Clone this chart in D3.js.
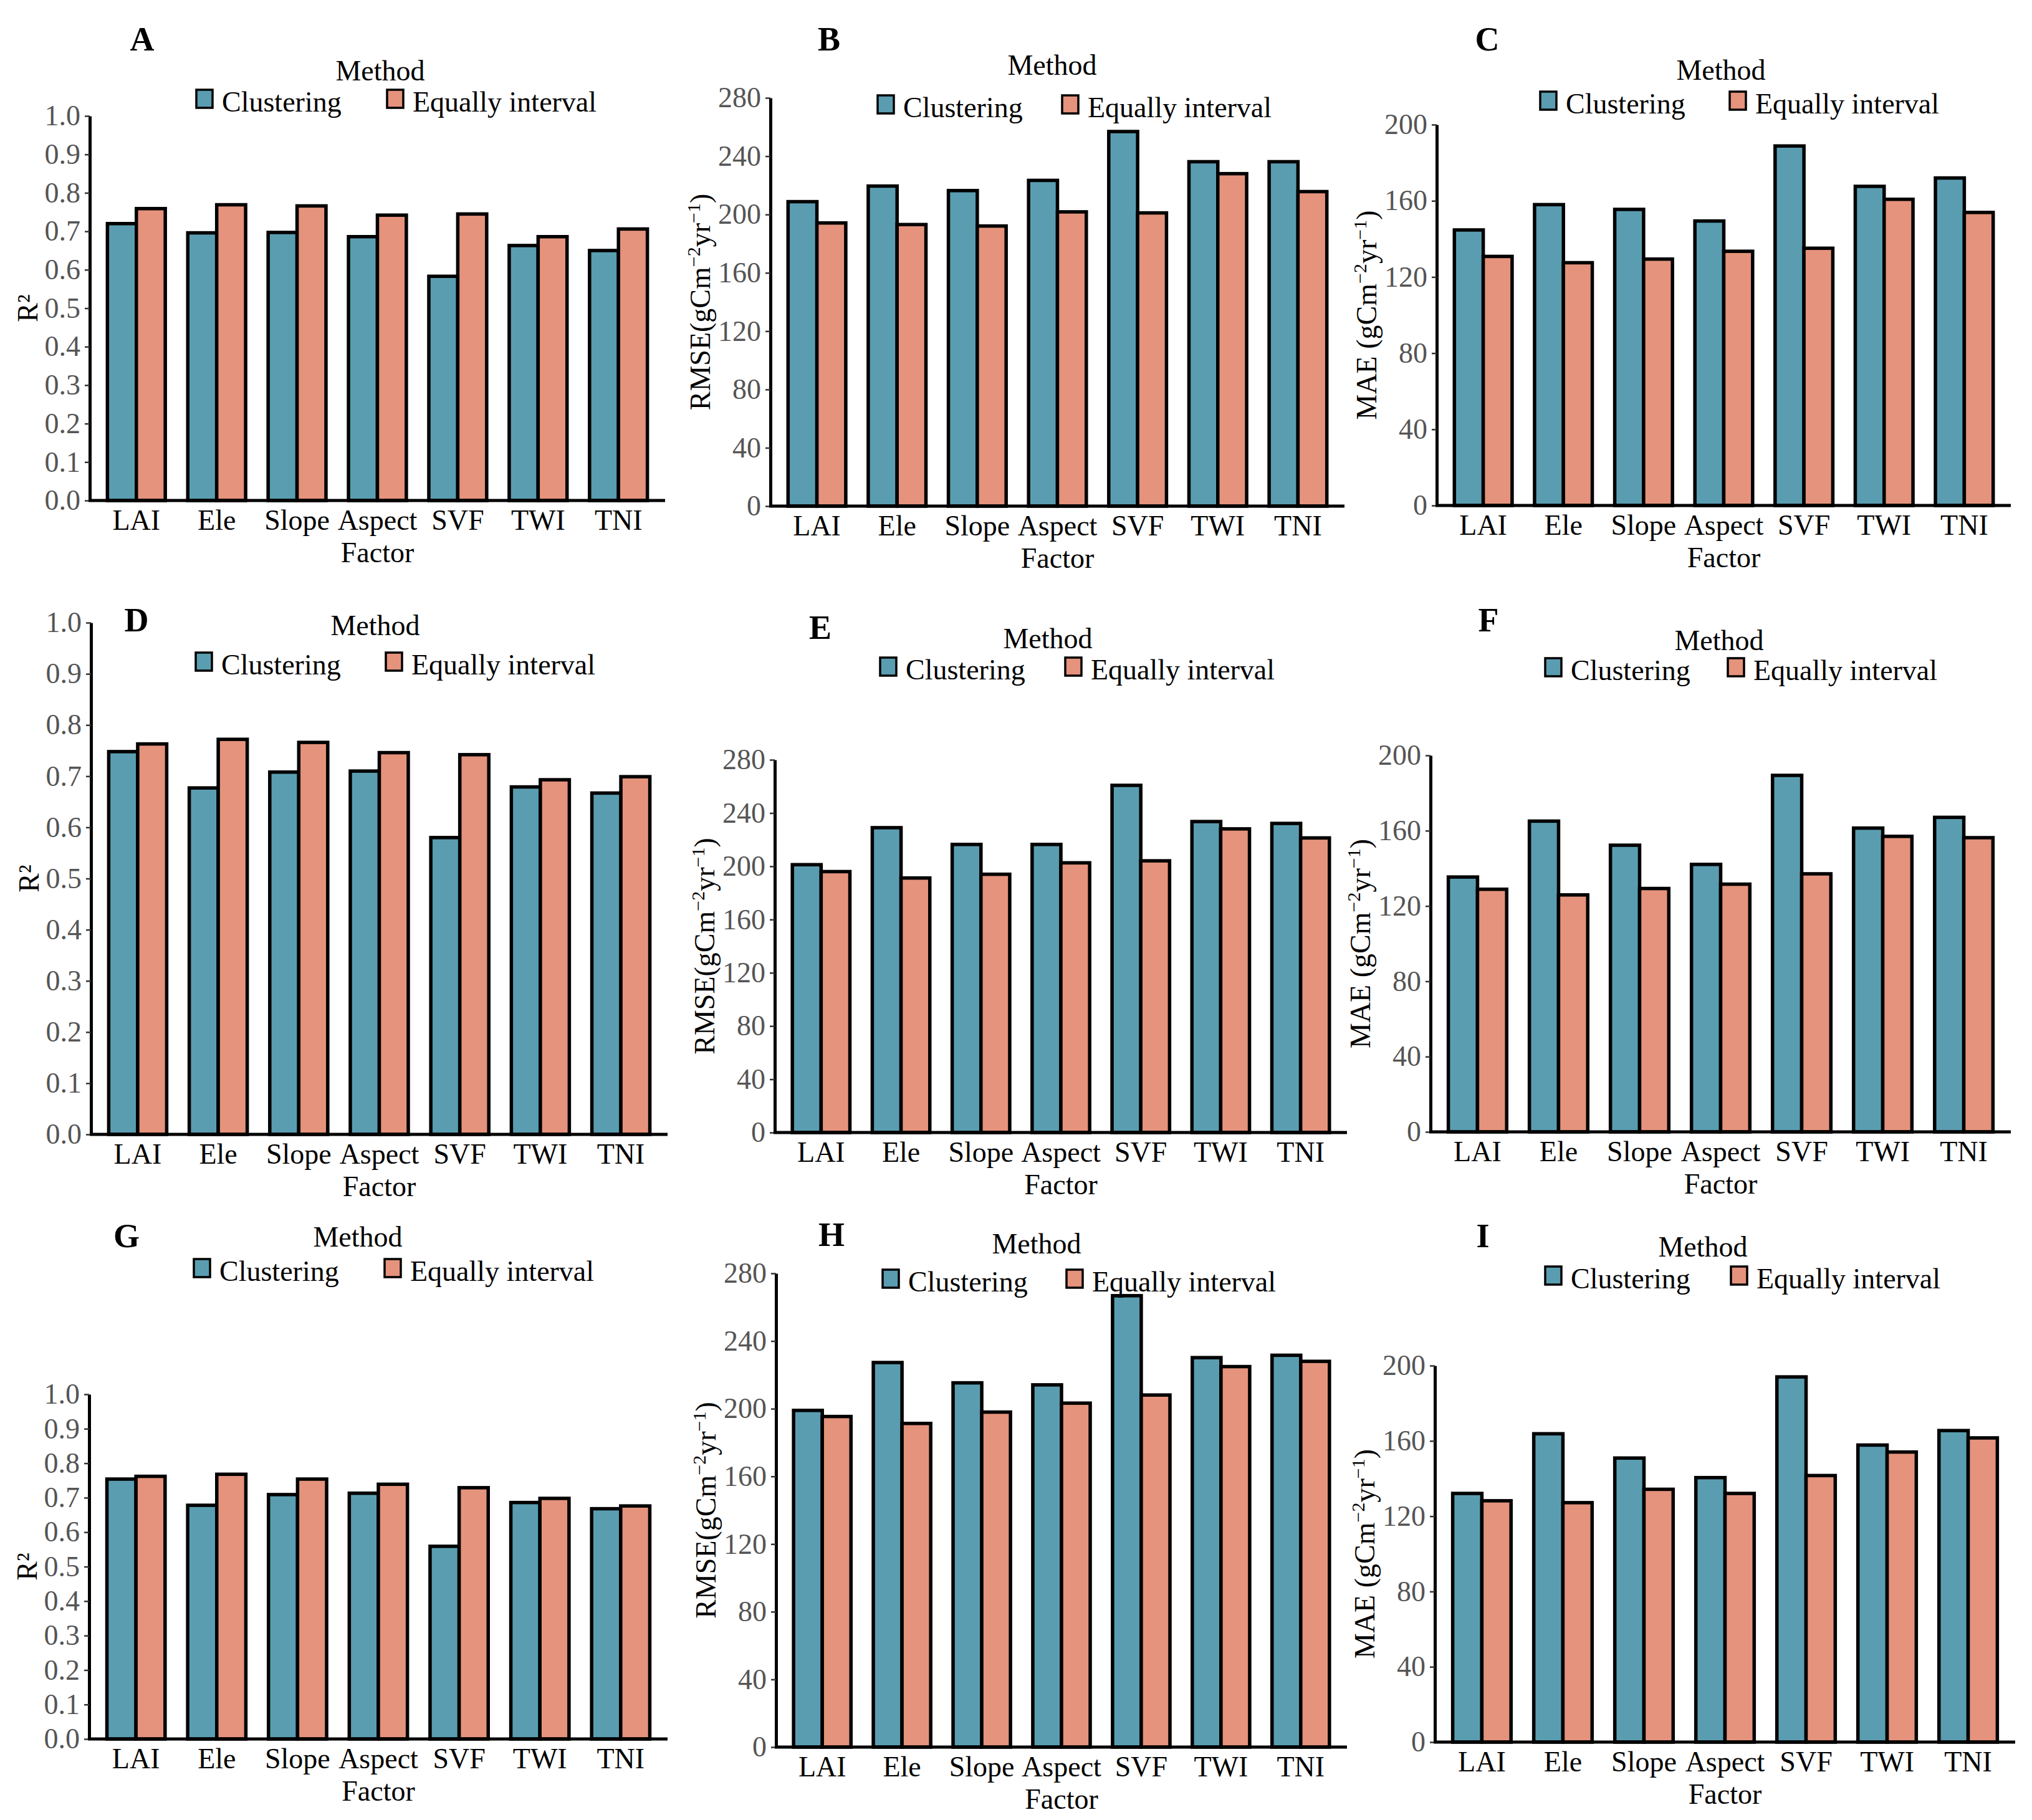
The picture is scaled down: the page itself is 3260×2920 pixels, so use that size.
<!DOCTYPE html>
<meta charset="utf-8">
<title>Clustering vs Equally interval</title>
<body>
<script src="https://cdn.jsdelivr.net/npm/d3@7/dist/d3.min.js"></script>
<style>
html, body {
    margin: 0;
    background: #fff;
}
svg text {
    font-family: "Liberation Serif", "Times New Roman", serif;
}
</style>
<script>
var factors = ["LAI", "Ele", "Slope", "Aspect", "SVF", "TWI", "TNI"];
var methods = ["Clustering", "Equally interval"];

var r2Ticks = [0, 0.1, 0.2, 0.3, 0.4, 0.5, 0.6, 0.7, 0.8, 0.9, 1.0];
var rmseTicks = [0, 40, 80, 120, 160, 200, 240, 280];
var maeTicks = [0, 40, 80, 120, 160, 200];

// row 1
var r2A_clu = [0.720, 0.696, 0.697, 0.686, 0.583, 0.663, 0.650];
var r2A_eq  = [0.759, 0.769, 0.766, 0.742, 0.745, 0.686, 0.706];
var rmseB_clu = [208.8, 219.5, 216.4, 223.4, 256.9, 236.2, 236.2];
var rmseB_eq  = [194.2, 193.1, 192.1, 201.8, 201.1, 228.0, 215.7];
var maeC_clu = [144.7, 158.0, 155.5, 149.4, 188.8, 167.6, 172.0];
var maeC_eq  = [130.8, 127.5, 129.4, 133.5, 135.1, 160.8, 153.9];
// row 2
var r2D_clu = [0.748, 0.677, 0.708, 0.710, 0.580, 0.679, 0.667];
var r2D_eq  = [0.763, 0.772, 0.766, 0.746, 0.742, 0.693, 0.699];
var rmseE_clu = [201.2, 229.0, 216.4, 216.4, 260.8, 233.6, 232.2];
var rmseE_eq  = [196.0, 191.2, 194.0, 202.6, 204.1, 228.1, 221.3];
var maeF_clu = [135.4, 165.1, 152.3, 142.1, 189.4, 161.4, 167.1];
var maeF_eq  = [128.9, 125.9, 129.3, 131.6, 137.1, 157.0, 156.3];
// row 3
var r2G_clu = [0.754, 0.678, 0.709, 0.713, 0.559, 0.686, 0.668];
var r2G_eq  = [0.762, 0.768, 0.754, 0.739, 0.729, 0.698, 0.676];
var rmseH_clu = [199.0, 227.3, 215.3, 214.1, 266.8, 230.2, 231.6];
var rmseH_eq  = [195.4, 191.3, 198.0, 203.3, 208.1, 224.9, 228.0];
var maeI_clu = [132.1, 163.8, 150.9, 140.5, 194.0, 157.8, 165.5];
var maeI_eq  = [128.2, 127.2, 134.3, 132.1, 141.6, 154.1, 161.6];

var colors = ["#5a9db1", "#e5937c"];

var width = 3260,
    height = 2920,
    fontSize = 46;

var panels = [
    {id: "A", clu: r2A_clu, eq: r2A_eq, ticks: r2Ticks, kind: "r2",
     x0: 144, x1: 1067, yTop: 186, yBot: 803, letter: [228, 81], title: [610, 129], leg: [315, 144, 621]},
    {id: "B", clu: rmseB_clu, eq: rmseB_eq, ticks: rmseTicks, kind: "rmse",
     x0: 1236, x1: 2157, yTop: 157, yBot: 812, letter: [1330, 81], title: [1688, 120], leg: [1408, 153, 1704]},
    {id: "C", clu: maeC_clu, eq: maeC_eq, ticks: maeTicks, kind: "mae",
     x0: 2305, x1: 3226, yTop: 200, yBot: 811, letter: [2386, 81], title: [2761, 128], leg: [2471, 147, 2775]},
    {id: "D", clu: r2D_clu, eq: r2D_eq, ticks: r2Ticks, kind: "r2",
     x0: 146, x1: 1071, yTop: 999, yBot: 1820, letter: [219, 1013], title: [602, 1019], leg: [314, 1047, 619]},
    {id: "E", clu: rmseE_clu, eq: rmseE_eq, ticks: rmseTicks, kind: "rmse",
     x0: 1243, x1: 2161, yTop: 1219, yBot: 1817, letter: [1316, 1025], title: [1681, 1040], leg: [1412, 1055, 1709]},
    {id: "F", clu: maeF_clu, eq: maeF_eq, ticks: maeTicks, kind: "mae",
     x0: 2295, x1: 3226, yTop: 1212, yBot: 1816, letter: [2388, 1013], title: [2758, 1043], leg: [2479, 1056, 2772]},
    {id: "G", clu: r2G_clu, eq: r2G_eq, ticks: r2Ticks, kind: "r2",
     x0: 143, x1: 1071, yTop: 2237, yBot: 2790, letter: [203, 2001], title: [574, 2000], leg: [311, 2020, 617]},
    {id: "H", clu: rmseH_clu, eq: rmseH_eq, ticks: rmseTicks, kind: "rmse",
     x0: 1245, x1: 2161, yTop: 2043, yBot: 2803, letter: [1334, 1999], title: [1663, 2011], leg: [1416, 2037, 1711]},
    {id: "I", clu: maeI_clu, eq: maeI_eq, ticks: maeTicks, kind: "mae",
     x0: 2302, x1: 3233, yTop: 2191, yBot: 2795, letter: [2379, 2001], title: [2732, 2016], leg: [2479, 2032, 2777]}
];

var svg = d3.select("body").append("svg")
    .attr("width", width)
    .attr("height", height)
    .style("background", "#fff");

panels.forEach(function(p) {
    var g = svg.append("g").attr("class", "panel-" + p.id);

    var x = d3.scaleBand()
        .domain(factors)
        .range([p.x0, p.x1])
        .paddingInner(0.28)
        .paddingOuter(0.22);

    var xm = d3.scaleBand()
        .domain(methods)
        .range([0, x.bandwidth()]);

    var y = d3.scaleLinear()
        .domain([0, p.ticks[p.ticks.length - 1]])
        .range([p.yBot, p.yTop]);

    var rows = factors.map(function(f, i) {
        return {factor: f, values: [p.clu[i], p.eq[i]]};
    });

    // bars
    g.selectAll("g.grp")
        .data(rows)
        .enter().append("g")
        .attr("class", "grp")
        .attr("transform", function(d) { return "translate(" + x(d.factor) + ",0)"; })
        .selectAll("rect")
        .data(function(d) {
            return d.values.map(function(v, j) { return {method: methods[j], value: v, j: j}; });
        })
        .enter().append("rect")
        .attr("x", function(d) { return xm(d.method); })
        .attr("width", xm.bandwidth())
        .attr("y", function(d) { return y(d.value); })
        .attr("height", function(d) { return y(0) - y(d.value); })
        .attr("fill", function(d) { return colors[d.j]; })
        .attr("stroke", "#000")
        .attr("stroke-width", 5.5);

    // y axis
    var yAxis = g.append("g")
        .attr("transform", "translate(" + p.x0 + ",0)")
        .call(d3.axisLeft(y)
            .tickValues(p.ticks)
            .tickFormat(p.kind === "r2" ? d3.format(".1f") : d3.format("d"))
            .tickSize(8)
            .tickSizeOuter(0)
            .tickPadding(7));
    yAxis.select(".domain").attr("stroke", "#000").attr("stroke-width", 5);
    yAxis.selectAll(".tick line").attr("stroke", "#333").attr("stroke-width", 2.5);
    yAxis.selectAll(".tick text")
        .attr("fill", "#555")
        .style("font-size", fontSize + "px");

    // x axis
    var xAxis = g.append("g")
        .attr("transform", "translate(0," + p.yBot + ")")
        .call(d3.axisBottom(x).tickSize(0).tickSizeOuter(0).tickPadding(14));
    xAxis.select(".domain").attr("stroke", "#000").attr("stroke-width", 5)
        .attr("d", "M" + (p.x0 - 2) + ",0H" + p.x1);
    xAxis.selectAll(".tick text")
        .attr("fill", "#000")
        .style("font-size", fontSize + "px");

    // axis titles
    g.append("text")
        .attr("x", (p.x0 + p.x1) / 2)
        .attr("y", p.yBot + 99)
        .attr("text-anchor", "middle")
        .style("font-size", fontSize + "px")
        .text("Factor");

    var yOff = p.kind === "r2" ? 84 : 97;
    var yl = g.append("text")
        .attr("transform", "translate(" + (p.x0 - yOff) + "," + ((p.yTop + p.yBot) / 2) + ")rotate(-90)")
        .attr("text-anchor", "middle")
        .style("font-size", fontSize + "px");
    if (p.kind === "r2") {
        yl.text("R²");
    } else {
        yl.append("tspan").text(p.kind === "rmse" ? "RMSE(gCm" : "MAE (gCm");
        yl.append("tspan").attr("dy", -16).style("font-size", "30px").text("−2");
        yl.append("tspan").attr("dy", 16).text("yr");
        yl.append("tspan").attr("dy", -16).style("font-size", "30px").text("−1");
        yl.append("tspan").attr("dy", 16).text(")");
    }

    // panel letter
    g.append("text")
        .attr("x", p.letter[0])
        .attr("y", p.letter[1])
        .attr("text-anchor", "middle")
        .style("font-size", "54px")
        .style("font-weight", "bold")
        .text(p.id);

    // legend
    g.append("text")
        .attr("x", p.title[0])
        .attr("y", p.title[1])
        .attr("text-anchor", "middle")
        .style("font-size", fontSize + "px")
        .text("Method");

    var keys = g.selectAll("g.key")
        .data(methods)
        .enter().append("g")
        .attr("class", "key")
        .attr("transform", function(d, i) {
            return "translate(" + (i === 0 ? p.leg[0] : p.leg[2]) + "," + p.leg[1] + ")";
        });
    keys.append("rect")
        .attr("width", 26)
        .attr("height", 29)
        .attr("fill", function(d, i) { return colors[i]; })
        .attr("stroke", "#000")
        .attr("stroke-width", 3.5);
    keys.append("text")
        .attr("x", 41)
        .attr("y", 35)
        .style("font-size", fontSize + "px")
        .text(function(d) { return d; });
});
</script>
